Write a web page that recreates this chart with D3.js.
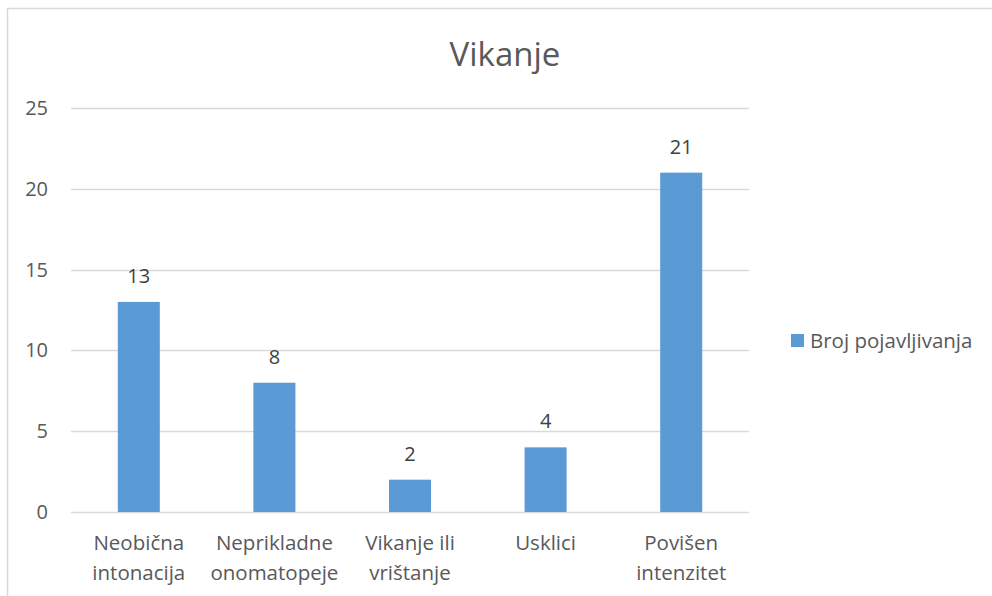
<!DOCTYPE html>
<html>
<head>
<meta charset="utf-8">
<script src="https://cdn.jsdelivr.net/npm/d3@7"></script>
<style>
  body { margin: 0; background: #fff; }
  svg { font-family: "Open Sans", "Noto Sans", sans-serif; }
</style>
</head>
<body>
<svg id="chart" width="992" height="596"></svg>
<script>
// chart data
var categories = [["Neobična", "intonacija"], ["Neprikladne", "onomatopeje"], ["Vikanje ili", "vrištanje"], ["Usklici"], ["Povišen", "intenzitet"]];
var values = [13, 8, 2, 4, 21];
var yTicks = [0, 5, 10, 15, 20, 25];
var seriesName = "Broj pojavljivanja";

var svg = d3.select("#chart");
var textColor = "#595959", barColor = "#5b9bd5";

// outer border of the chart area
svg.append("rect").attr("x", 7.5).attr("y", 8.5).attr("width", 1000).attr("height", 600)
  .attr("fill", "none").attr("stroke", "#d9d9d9").attr("stroke-width", 1.5);

var plotLeft = 71, plotRight = 749, plotTop = 108, plotBottom = 512;

var x = d3.scaleBand().domain(d3.range(values.length)).range([plotLeft, plotRight]).paddingInner(0.69).paddingOuter(0.345);
var y = d3.scaleLinear().domain([0, 25]).range([plotBottom, plotTop]);

// gridlines
svg.append("g").selectAll("line").data(yTicks).join("line")
  .attr("x1", plotLeft).attr("x2", plotRight)
  .attr("y1", d => Math.round(y(d)) + 0.5).attr("y2", d => Math.round(y(d)) + 0.5)
  .attr("stroke", "#d9d9d9").attr("stroke-width", 1.3);

// y tick labels
svg.append("g").selectAll("text").data(yTicks).join("text")
  .attr("x", 48).attr("y", d => y(d)).attr("dy", "0.35em")
  .attr("text-anchor", "end").attr("fill", textColor).style("font-size", "20px")
  .text(d => d);

// bars
svg.append("g").selectAll("rect").data(values).join("rect")
  .attr("x", (d, i) => x(i)).attr("width", x.bandwidth())
  .attr("y", d => y(d)).attr("height", d => y(0) - y(d))
  .attr("fill", barColor);

// value labels
svg.append("g").selectAll("text").data(values).join("text")
  .attr("x", (d, i) => x(i) + x.bandwidth() / 2).attr("y", d => y(d) - 19)
  .attr("text-anchor", "middle").attr("fill", "#404040").style("font-size", "20px")
  .text(d => d);

// category labels
svg.append("g").selectAll("text").data(categories).join("text")
  .attr("x", (d, i) => x(i) + x.bandwidth() / 2).attr("y", 550)
  .attr("text-anchor", "middle").attr("fill", textColor).style("font-size", "20.5px")
  .selectAll("tspan").data(d => d).join("tspan")
  .attr("x", function() { return this.parentNode.getAttribute("x"); })
  .attr("dy", (d, i) => i === 0 ? 0 : 30)
  .text(d => d);

// title
svg.append("text").attr("x", 505).attr("y", 66).attr("text-anchor", "middle")
  .attr("fill", textColor).style("font-size", "33px").text("Vikanje");

// legend
var legend = svg.append("g").attr("transform", "translate(791,334)");
legend.append("rect").attr("width", 13).attr("height", 13).attr("fill", barColor);
legend.append("text").attr("x", 19).attr("y", 7).attr("dy", "0.35em")
  .attr("fill", textColor).style("font-size", "20.5px").text(seriesName);
</script>
</body>
</html>
